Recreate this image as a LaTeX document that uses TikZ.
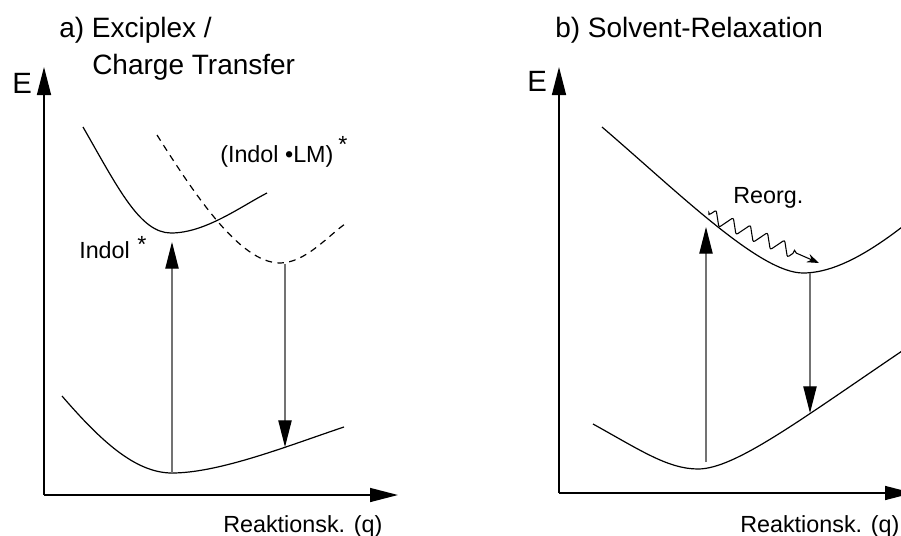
\documentclass[tikz,border=0pt]{standalone}
\usepackage{fontspec}
\setmainfont{Liberation Sans}
\usetikzlibrary{arrows.meta,decorations.pathmorphing}
\tikzset{
  axis/.style={line width=1.1pt,-{Triangle[length=21pt,width=10.5pt]}},
  pot/.style={line width=.9pt},
  trans/.style={black!55,line width=.8pt,-{Triangle[length=20pt,width=10pt,color=black]}},
  reorg/.style={line width=.8pt,rounded corners=1.5pt,-{Stealth[length=9pt,width=6.5pt]},
    decorate,decoration={zigzag,segment length=14pt,amplitude=5.5pt,post length=13pt}},
  title/.style={anchor=base west,inner sep=0pt,font=\fontsize{21}{25}\selectfont},
  lbl/.style={anchor=base west,inner sep=0pt,font=\fontsize{17.5}{20}\selectfont},
  elbl/.style={anchor=base west,inner sep=0pt,font=\fontsize{22}{26}\selectfont}
}
\begin{document}
\begin{tikzpicture}[x=.75pt,y=-.75pt]
  \useasboundingbox (0,0) rectangle (901,536);
  \clip (0,0) rectangle (901,536);
  % a) Exciplex / Charge Transfer
  \coordinate (oa) at (44,495); \coordinate (ya) at (44,67); \coordinate (xa) at (398,495);
  \draw[axis] (oa) -- (ya);
  \draw[axis] (oa) -- (xa);
  \node[elbl] (ea) at (12,93) {E};
  \node[title] (tita) at (59,37) {a) Exciplex /};
  \node[title] (titb) at (92,74) {Charge Transfer};
  \draw[pot] (83,127) .. controls (118,188) and (140,233) .. (171,233)
    .. controls (205,233) and (240,207) .. (267,193);
  \draw[pot,dashed,dash pattern=on 5pt off 4pt] (157,135) .. controls (195,195) and (240,263) .. (280,263)
    .. controls (305,263) and (328,236) .. (345,224);
  \draw[pot] (62,396) .. controls (100,440) and (135,473) .. (172,473) coordinate (gsmin)
    .. controls (220,473) and (290,445) .. (344,427);
  \coordinate (exup) at (172,242);
  \coordinate (ctdown) at (285,264); \coordinate (gsend) at (285,447);
  \draw[trans] (gsmin) -- (exup);
  \draw[trans] (ctdown) -- (gsend);
  \node[lbl] (exlbl) at (79,258) {Indol};
  \node[lbl] (exstar) at (137,252) {*};
  \node[lbl] (ctlbl) at (220,162) {(Indol •LM)};
  \node[lbl] (ctstar) at (338,152) {*};
  \node[lbl] (qa) at (223,532) {Reaktionsk. (q)};
  % b) Solvent-Relaxation
  \coordinate (ob) at (559,493); \coordinate (yb) at (559,67); \coordinate (xb) at (913,493);
  \draw[axis] (ob) -- (yb);
  \draw[axis] (ob) -- (xb);
  \node[elbl] (eb) at (527,91) {E};
  \node[title] (titc) at (555,37) {b) Solvent-Relaxation};
  \draw[pot] (602,127) .. controls (680,194) and (760,273) .. (803,273)
    .. controls (835,273) and (870,252) .. (906,224);
  \draw[pot] (593,424) .. controls (640,450) and (668,469) .. (698,469)
    .. controls (735,469) and (800,420) .. (905,349);
  \coordinate (gsup) at (706,462); \coordinate (slup) at (706,227);
  \coordinate (sldown) at (810,273); \coordinate (gsdown) at (810,413);
  \draw[trans] (gsup) -- (slup);
  \draw[trans] (sldown) -- (gsdown);
  \coordinate (rstart) at (709,215); \coordinate (rend) at (819,263);
  \draw[reorg] (rstart) -- (rend);
  \node[lbl] (reorglbl) at (733,203) {Reorg.};
  \node[lbl] (qb) at (740,532) {Reaktionsk. (q)};
\end{tikzpicture}
\end{document}
